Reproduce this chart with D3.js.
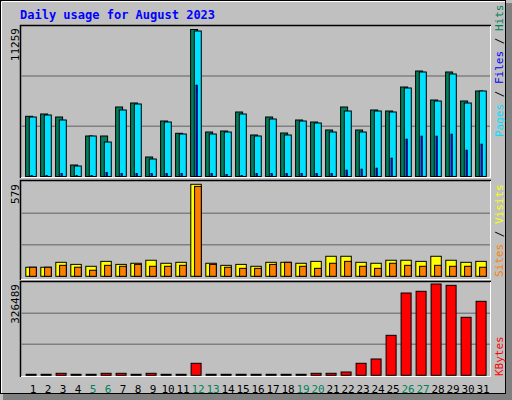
<!DOCTYPE html>
<html><head><meta charset="utf-8">
<script src="https://cdn.jsdelivr.net/npm/d3@7"></script>
<style>body{margin:0;background:#fff}svg{display:block}text{font-family:"DejaVu Sans Mono",monospace}</style>
</head><body><svg id="c" width="512" height="400"></svg>
<script>
const days = d3.range(1, 32);
const weekends = [5,6,12,13,19,20,26,27];
const hits  = [4611,4787,4557,881,3102,3102,5323,5630,1494,4251,3309,11259,3408,3485,4940,3179,4557,3332,4328,4174,3562,5323,3562,5094,5017,6855,8080,5859,8004,5783,6549];
const files = [4557,4710,4328,804,3102,2642,5094,5553,1340,4174,3255,11144,3255,3408,4787,3102,4404,3179,4251,4098,3408,5017,3408,5017,4940,6779,8004,5783,7851,5630,6549];
const pages = [77,77,230,77,77,306,230,230,230,230,230,7008,230,153,77,230,230,230,230,230,230,498,574,651,1417,2872,3102,3102,3255,2030,2489];
const visits= [57,57,88,75,63,94,75,82,101,82,88,579,82,69,75,63,88,88,82,94,126,126,88,82,101,101,94,126,101,88,94];
const sites = [57,57,69,57,38,69,63,75,63,63,69,566,75,57,50,50,75,88,63,50,82,94,63,50,82,69,63,69,63,63,57];
const kbytes= [3576,3576,7150,3576,3576,7150,7150,3576,7150,3576,3576,42900,3576,3576,3576,3576,3576,3576,3576,7150,7150,11800,42900,58300,143000,294300,300400,326489,321800,207400,264600];

const svg = d3.select("#c");
svg.append("rect").attr("x",0).attr("y",0).attr("width",512).attr("height",400).attr("fill","#c0c0c0");
svg.append("rect").attr("x",506).attr("y",3).attr("width",6).attr("height",397).attr("fill","#808080");
svg.append("rect").attr("x",3).attr("y",394).attr("width",509).attr("height",6).attr("fill","#808080");
svg.append("rect").attr("x",0.5).attr("y",0.5).attr("width",505).attr("height",393).attr("fill","none").attr("stroke","#000");
svg.append("line").attr("x1",2).attr("y1",1.5).attr("x2",505).attr("y2",1.5).attr("stroke","#fff");
svg.append("line").attr("x1",1.5).attr("y1",2).attr("x2",1.5).attr("y2",393).attr("stroke","#fff");

svg.append("text").attr("x",20).attr("y",19).attr("fill","#0000ff").attr("font-size",12).attr("font-weight","bold").text("Daily usage for August 2023");

const x = d3.scaleBand().domain(days).range([25.3, 25.3+15*31]).paddingInner(0);
const L = 20, R = 491;

function panel(y0, y1, base, top, max){
  // frame
  svg.append("rect").attr("x",L).attr("y",y0).attr("width",R-L).attr("height",y1-y0).attr("fill","#c0c0c0");
  svg.append("path").attr("d",`M${L+0.5},${y1}V${y0+0.5}H${R}`).attr("stroke","#000").attr("stroke-width",1.5).attr("fill","none");
  svg.append("path").attr("d",`M${L+1},${y1-0.5}H${R-0.5}V${y0+1}`).attr("stroke","#fff").attr("fill","none");
  const y = d3.scaleLinear().domain([0,max]).range([base, top]);
  return y;
}
function grid(y, base, step){
  [1,2].forEach(k=>{
    svg.append("line").attr("x1",L+1).attr("x2",R-1).attr("y1",base-step*k).attr("y2",base-step*k).attr("stroke","#808080").attr("stroke-width",1.5);
  });
}
function bars(y, data, dx, w, color, sw){
  svg.append("g").selectAll("rect").data(data).join("rect")
    .attr("x",(d,i)=>x(days[i])+dx).attr("y",d=>y(d)).attr("width",w).attr("height",d=>y(0)-y(d))
    .attr("fill",color).attr("stroke","#000").attr("stroke-width",sw);
}
function ylabel(txt, cx, cy){
  svg.append("text").attr("transform",`translate(${cx},${cy}) rotate(-90)`).attr("text-anchor","end").attr("font-size",11).attr("fill","#000").text(txt);
}
function rlabel(parts, cx, cy){
  const t = svg.append("text").attr("transform",`translate(${cx},${cy}) rotate(-90)`).attr("text-anchor","start").attr("font-size",11);
  parts.forEach(p=>t.append("tspan").attr("fill",p[1]).text(p[0]));
}

// top panel
const y1 = panel(25, 178, 176.5, 29.5, 11259);
grid(y1, 176.5, 50.3);
bars(y1, hits, 0.3, 7, "#00805c", 1);
bars(y1, files, 4, 7, "#00e0ff", 1);
bars(y1, pages, 5.6, 1.6, "#0000ff", 0.6);
ylabel("11259", 19, 28);
rlabel([["Pages","#00e0ff"],[" / ","#000"],["Files","#0000ff"],[" / ","#000"],["Hits","#00805c"]], 503, 137);

// middle panel
const y2 = panel(180, 280, 276.3, 184.3, 579);
grid(y2, 276.3, 31.5);
bars(y2, visits, 0.5, 10.5, "#ffff00", 1);
bars(y2, sites, 4.3, 6.7, "#ff8000", 1);
ylabel("579", 19, 184);
rlabel([["Sites","#ff8000"],[" / ","#000"],["Visits","#ffff00"]], 503, 277);

// bottom panel
const y3 = panel(281, 377, 375.3, 284, 326489);
grid(y3, 375.3, 31);
bars(y3, kbytes, 0.8, 10, "#ff0000", 1);
ylabel("326489", 19, 284);
rlabel([["KBytes","#ff0000"]], 503, 376);

// x labels
svg.append("g").selectAll("text").data(days).join("text")
  .attr("x",d=>x(d)+7.7).attr("y",393).attr("text-anchor","middle").attr("font-size",11)
  .attr("fill",d=>weekends.includes(d)?"#00805c":"#000").text(d=>d);
</script></body></html>
